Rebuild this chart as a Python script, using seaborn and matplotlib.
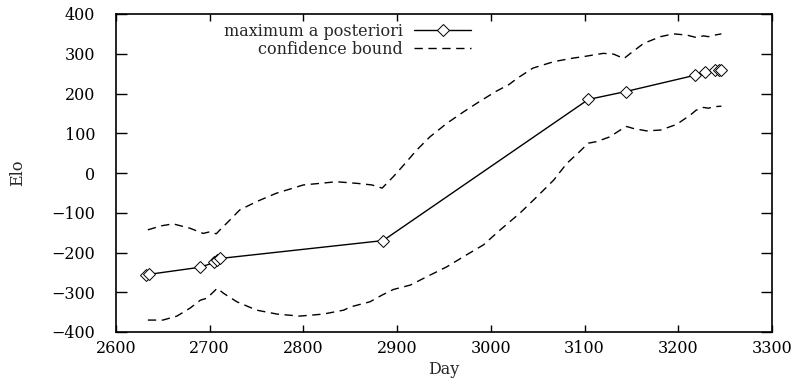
import numpy as np
import matplotlib
matplotlib.use("Agg")
import matplotlib.pyplot as plt
import seaborn as sns

# maximum a posteriori estimates
map_days = [2632, 2635, 2690, 2705, 2708, 2711, 2885, 3104, 3144, 3218, 3229, 3239, 3243, 3246]
map_elo = [-256, -255, -237, -225, -220, -215, -170, 185, 205, 246, 253, 259, 259, 258]

# confidence bounds
upper_days = [2634, 2648, 2661, 2679, 2693, 2700, 2707, 2711, 2720, 2732, 2750, 2771,
              2800, 2818, 2835, 2857, 2873, 2884, 2896, 2907, 2921, 2935, 2953, 2971,
              2988, 3006, 3019, 3028, 3045, 3067, 3085, 3102, 3120, 3131, 3142, 3149,
              3163, 3181, 3195, 3209, 3219, 3227, 3232, 3239, 3246]
upper_elo = [-143, -133, -128, -139, -152, -148, -153, -143, -122, -93, -72, -51,
             -30, -26, -22, -26, -30, -38, -9, 20, 58, 91, 125, 154,
             180, 206, 222, 238, 264, 280, 288, 294, 301, 299, 288, 301,
             326, 343, 350, 347, 341, 345, 343, 347, 350]

lower_days = [2634, 2650, 2665, 2679, 2690, 2697, 2704, 2708, 2715, 2729, 2750, 2772,
              2796, 2821, 2843, 2850, 2871, 2884, 2896, 2914, 2935, 2953, 2974, 2992,
              3010, 3031, 3049, 3067, 3081, 3093, 3104, 3113, 3127, 3138, 3145, 3152,
              3166, 3181, 3198, 3213, 3219, 3227, 3232, 3239, 3246]
lower_elo = [-370, -370, -360, -340, -320, -315, -299, -290, -303, -324, -345, -355,
             -360, -355, -345, -337, -324, -307, -293, -282, -257, -236, -206, -181,
             -143, -101, -60, -18, 24, 50, 75, 79, 91, 108, 117, 112,
             106, 108, 122, 146, 158, 165, 163, 167, 168]

sns.set_theme(style="ticks")
plt.rcParams['font.family'] = ['DejaVu Serif']
fs = 11.5

fig = plt.figure(figsize=(7.96, 3.81), dpi=100)
ax = fig.add_axes([116 / 796, 49 / 381, 656 / 796, 318 / 381])

sns.lineplot(x=map_days, y=map_elo, ax=ax, color='black', linewidth=1.0,
             marker='D', markersize=6.5, markerfacecolor='white',
             markeredgecolor='black', markeredgewidth=0.7,
             sort=False, estimator=None, label='maximum a posteriori')
sns.lineplot(x=upper_days, y=upper_elo, ax=ax, color='black', linewidth=1.0,
             linestyle=(0, (6, 4)), sort=False, estimator=None,
             label='confidence bound')
sns.lineplot(x=lower_days, y=lower_elo, ax=ax, color='black', linewidth=1.0,
             linestyle=(0, (6, 4)), sort=False, estimator=None)

ax.set_xlim(2600, 3300)
ax.set_ylim(-400, 400)
ax.set_xticks(np.arange(2600, 3301, 100))
ax.set_yticks(np.arange(-400, 401, 100))
ax.tick_params(axis='x', direction='in', top=True, bottom=True, length=5,
               width=1, pad=6, labelsize=fs, colors='black')
ax.tick_params(axis='y', direction='in', left=True, right=True, length=8,
               width=1, pad=15, labelsize=fs, colors='black')
for s in ax.spines.values():
    s.set_color('black')
    s.set_linewidth(1.2)

ax.set_xlabel('Day', fontsize=fs, labelpad=3)
ax.set_ylabel('Elo', fontsize=fs, labelpad=18)

ax.legend(loc='upper right', bbox_to_anchor=(0.555, 1.0), frameon=False,
          markerfirst=False, handlelength=3.6, fontsize=fs,
          labelspacing=0.05, borderaxespad=0.15, handletextpad=0.7)

fig.savefig('out.png', dpi=100)
